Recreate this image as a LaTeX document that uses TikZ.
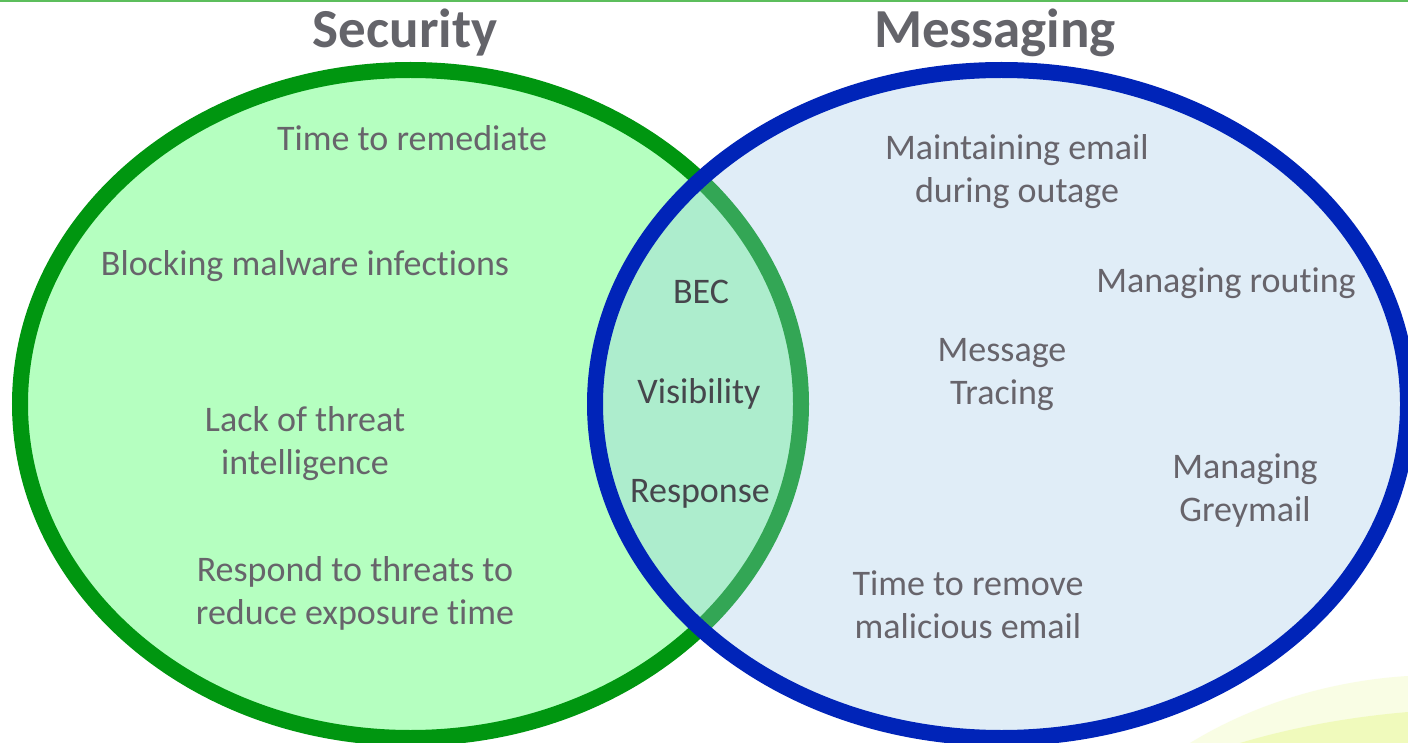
\documentclass[tikz,border=0pt]{standalone}
\usepackage{fontspec}
\setmainfont{Carlito}[Ligatures=NoCommon]
\usetikzlibrary{shapes.geometric}

\definecolor{secline}{RGB}{0,150,16}
\definecolor{secfill}{RGB}{181,255,192}
\definecolor{msgline}{RGB}{0,36,184}
\definecolor{msgfill}{RGB}{159,202,233}
\definecolor{txtgrey}{RGB}{103,100,107}
\definecolor{midgrey}{RGB}{70,70,76}
\definecolor{titlegrey}{RGB}{100,100,106}
\definecolor{topline}{RGB}{92,190,92}
\definecolor{swoosh}{RGB}{232,248,150}

\begin{document}
\begin{tikzpicture}[x=1pt, y=-1pt,
    venn/.style={ellipse, line width=16pt, inner sep=0pt},
    title/.style={font=\fontsize{55}{60}\selectfont\bfseries, text=titlegrey, anchor=base},
    item/.style={font=\fontsize{36}{43}\selectfont, text=txtgrey, align=center, anchor=base},
    both/.style={item, text=midgrey}]
    \useasboundingbox (0,0) rectangle (1408,743);
    \fill[white] (0,0) rectangle (1408,743);
    \draw[topline, line width=2pt] (0,1) -- (1408,1);
    % slide decoration, bottom right
    \fill[swoosh, opacity=0.25] (1190,743) .. controls (1260,700) and (1340,680) .. (1408,676) -- (1408,743) -- cycle;
    \fill[swoosh, opacity=0.5] (1240,743) .. controls (1300,725) and (1360,716) .. (1408,712) -- (1408,743) -- cycle;

    % the two sets
    \node[venn, draw=secline, fill=secfill, minimum width=781pt, minimum height=668pt] (sec) at (410.5,404) {};
    \node[venn, draw=msgline, fill=msgfill, fill opacity=0.32, minimum width=813pt, minimum height=668pt] (msg) at (1001.5,404) {};

    \node[title] (sectitle) at (405,48) {Security};
    \node[title] (msgtitle) at (995,48) {Messaging};

    % security only (base = last line)
    \node[item] (remediate) at (412,151) {Time to remediate};
    \node[item] (malware) at (305,276) {Blocking malware infections};
    \node[item] (intel) at (305,474) {Lack of threat\\intelligence};
    \node[item] (respond) at (355,624) {Respond to threats to\\reduce exposure time};

    % overlap
    \node[both] (bec) at (701,304) {BEC};
    \node[both] (visib) at (699,403) {Visibility};
    \node[both] (resp) at (700,502) {Response};

    % messaging only
    \node[item] (outage) at (1017,203) {Maintaining email\\during outage};
    \node[item] (routing) at (1226,293) {Managing routing};
    \node[item] (tracing) at (1002,404) {Message\\Tracing};
    \node[item] (grey) at (1245,521) {Managing\\Greymail};
    \node[item] (remove) at (968,638) {Time to remove\\malicious email};
\end{tikzpicture}
\end{document}
